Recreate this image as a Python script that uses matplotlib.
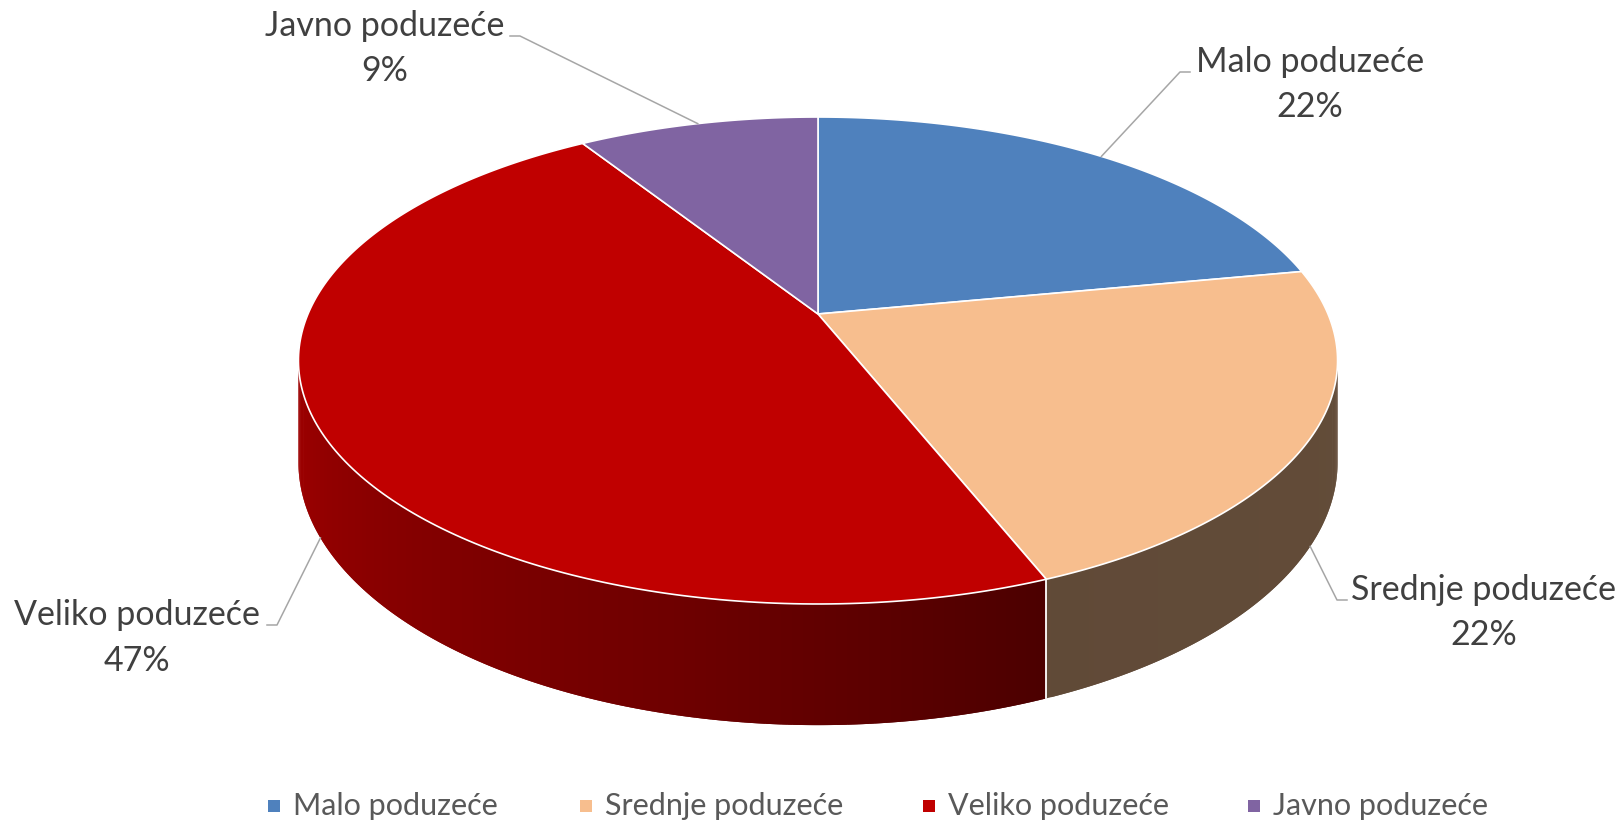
import numpy as np
import matplotlib.pyplot as plt
from matplotlib.patches import Polygon, Rectangle

# podaci
categories = ['Malo poduzeće', 'Srednje poduzeće', 'Veliko poduzeće', 'Javno poduzeće']
shares = [22, 22, 47, 9]
colors = ['#4F81BD', '#F7BE8E', '#C00000', '#8064A2']

# raspored oznaka (sredina teksta, bazna linija imena, bazna linija postotka, lakat linije)
label_x = [1310, 1484, 137, 385]
label_y = [72, 600, 625, 36]
pct_y = [117, 645, 671, 81]
elbows = [[(1180, 72), (1190, 72)], [(1337, 600), (1347, 600)],
          [(277, 625), (267, 625)], [(520, 36), (510, 36)]]
legend_x = [274, 586, 929, 1254]

# geometrija 3D pite (u pikselima)
CX, CY = 818, 314
SX, SY = 510, 234.6
K = 0.191
DEPTH = 98
TEXT_COLOR = '#404040'
FONT = ['Lato', 'DejaVu Sans']


def project(t, z=0.0):
    """Perspektivna projekcija točke na rubu diska (kut u stupnjevima)."""
    t = np.radians(t)
    d = 1 + K * np.sin(t)
    return CX + SX * np.cos(t) / d, CY - SY * np.sin(t) / d + z * DEPTH / d


def shade(t):
    tm = np.mod(t, 360)
    return np.interp(tm, [191, 258, 292, 349], [0.83, 0.57, 0.39, 0.40])


fig = plt.figure(figsize=(16.24, 8.23), dpi=100)
ax = fig.add_axes([0, 0, 1, 1])
ax.set_xlim(0, 1624)
ax.set_ylim(823, 0)
ax.axis('off')

total = sum(shares)
cum = np.cumsum(shares)
starts = 90 - 360 * (cum - np.array(shares)) / total
ends = 90 - 360 * cum / total

a = np.degrees(np.arcsin(K))
front_lo, front_hi = -180 + a, -a

# bočne stijenke (trake se preklapaju da ne bude bijelih šavova)
for s, e, col in zip(starts, ends, colors):
    rgb = np.array(plt.matplotlib.colors.to_rgb(col))
    for shift in (-360, 0, 360):
        lo = max(e, front_lo + shift)
        hi = min(s, front_hi + shift)
        if hi <= lo:
            continue
        ts = np.linspace(lo, hi, int((hi - lo) * 2) + 2)
        step = ts[1] - ts[0]
        for t0, t1 in zip(ts[:-1], ts[1:]):
            t1e = min(t1 + step, hi)
            seg = np.linspace(t0, t1e, 4)
            xt, yt = project(seg)
            xb, yb = project(seg[::-1], 1)
            c = rgb * shade((t0 + t1) / 2)
            ax.add_patch(Polygon(list(zip(xt, yt)) + list(zip(xb, yb)),
                                 closed=True, facecolor=c, edgecolor='none'))

# bijela okomita granica na stijenci
for b in ends:
    for shift in (-360, 0, 360):
        if front_lo + shift < b < front_hi + shift:
            xt, yt = project(b)
            xb, yb = project(b, 1)
            ax.plot([xt, xb], [yt, yb], color='white', lw=1.3)

# gornje plohe
for s, e, col in zip(starts, ends, colors):
    ts = np.linspace(s, e, 200)
    xs, ys = project(ts)
    pts = [(CX, CY)] + list(zip(xs, ys))
    ax.add_patch(Polygon(pts, closed=True, facecolor=col, edgecolor='white', lw=1.2))

# oznake podataka s linijama
for i, (name, val) in enumerate(zip(categories, shares)):
    mid = (starts[i] + ends[i]) / 2
    tm = np.mod(mid, 360)
    z = 1 if 180 + a < tm < 360 - a else 0
    px, py = project(mid, z)
    (ex, ey), (hx, hy) = elbows[i]
    ax.plot([px, ex, hx], [py, ey, hy], color='#A6A6A6', lw=1.1)
    ax.text(label_x[i], label_y[i], name, ha='center', va='baseline',
            fontsize=24.5, color=TEXT_COLOR, family=FONT)
    ax.text(label_x[i], pct_y[i], f'{val}%', ha='center', va='baseline',
            fontsize=24.5, color=TEXT_COLOR, family=FONT)

# legenda
for x, name, col in zip(legend_x, categories, colors):
    ax.add_patch(Rectangle((x - 6, 800), 12, 12, facecolor=col, edgecolor='none'))
    ax.text(x + 19, 815, name, ha='left', va='baseline', fontsize=22,
            color='#595959', family=FONT)

fig.savefig('out.png', dpi=100)
